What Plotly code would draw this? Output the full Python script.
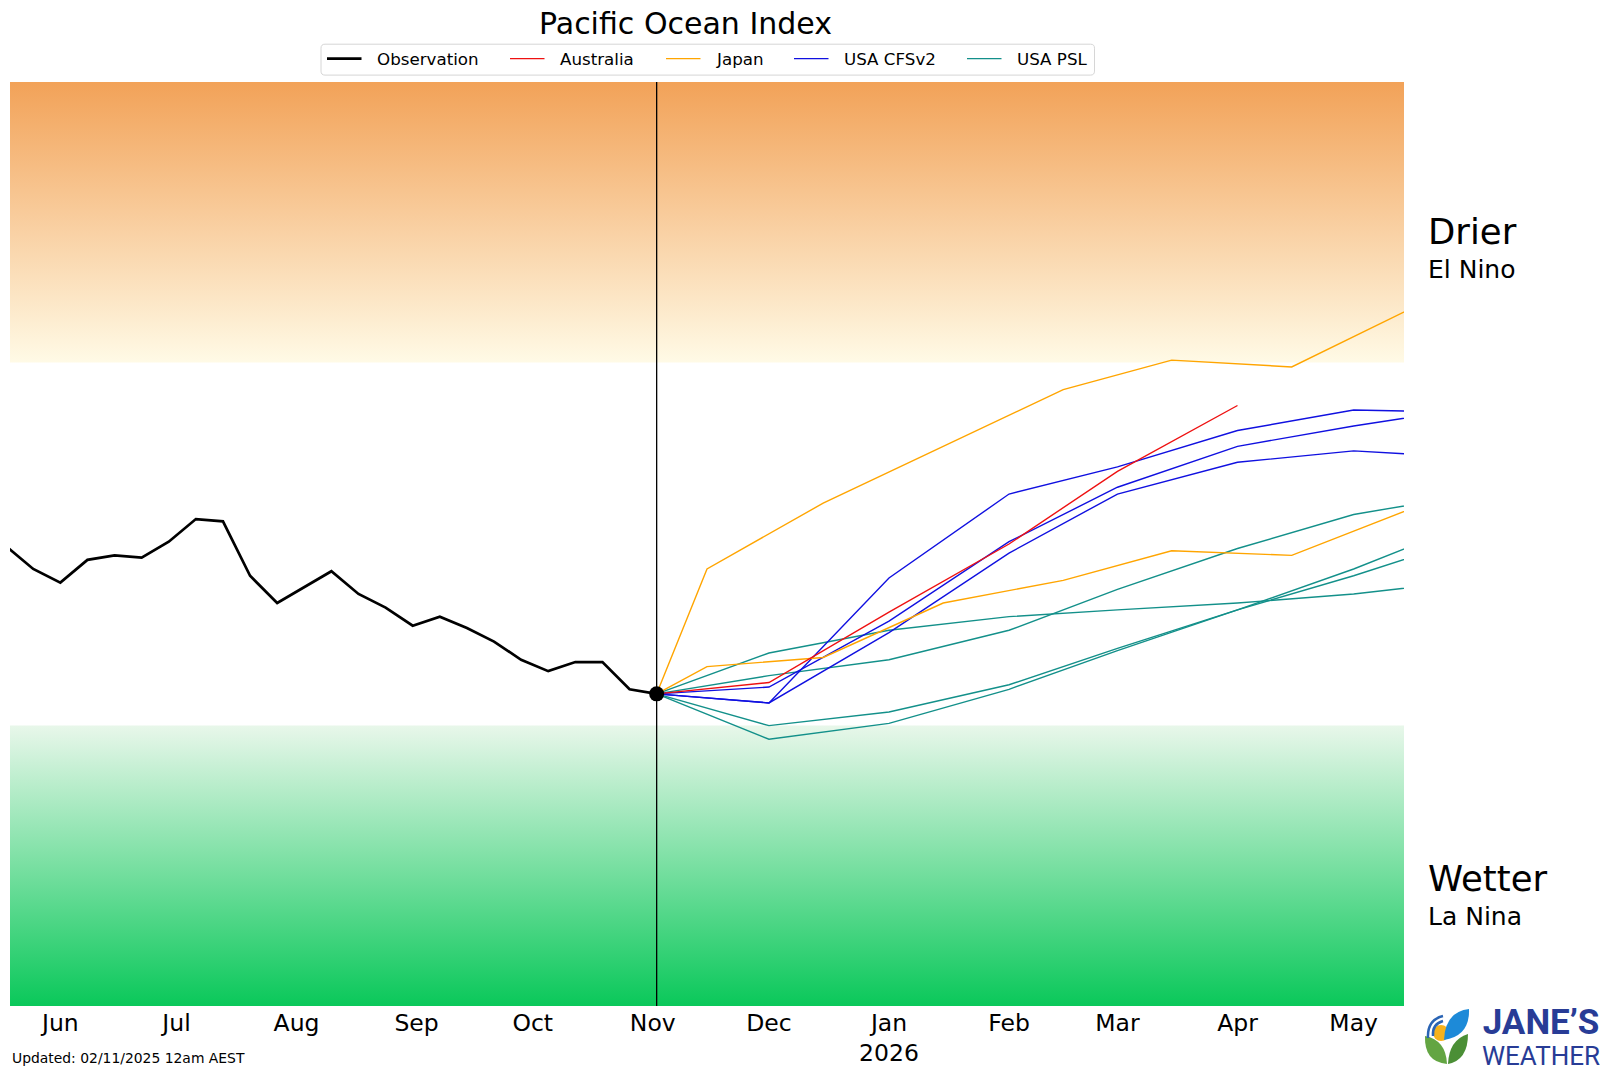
import plotly.graph_objects as go
import pandas as pd

# ---------------- data ----------------
OBS_END = "2025-11-02"
obs_dates = pd.date_range(end=OBS_END, periods=25, freq="7D")
obs_values = [-0.01, -0.11, -0.17, -0.07, -0.05, -0.06, 0.01, 0.11, 0.10, -0.14,
              -0.26, -0.19, -0.12, -0.22, -0.28, -0.36, -0.32, -0.37, -0.43, -0.51,
              -0.56, -0.52, -0.52, -0.64, -0.66]

start_value = obs_values[-1]

# monthly forecast dates (1st of month) after the observation end
month_dates = ["2025-12-01", "2026-01-01", "2026-02-01", "2026-03-01",
               "2026-04-01", "2026-05-01", "2026-06-01"]
# Japan forecast dates (mid-month)
japan_dates = ["2025-11-15", "2025-12-15", "2026-01-15", "2026-02-15",
               "2026-03-15", "2026-04-15", "2026-05-15"]

australia = [-0.61, -0.30, 0.00, 0.32, 0.61]

japan_members = [
    [-0.11, 0.18, 0.43, 0.68, 0.81, 0.78, 1.03],
    [-0.54, -0.50, -0.26, -0.16, -0.03, -0.05, 0.15],
]

cfsv2_members = [
    [-0.70, -0.15, 0.22, 0.34, 0.50, 0.59, 0.58],
    [-0.63, -0.34, 0.01, 0.25, 0.43, 0.52, 0.60],
    [-0.70, -0.39, -0.04, 0.22, 0.36, 0.41, 0.38],
]

psl_members = [
    [-0.48, -0.38, -0.32, -0.29, -0.26, -0.22, -0.16],
    [-0.58, -0.51, -0.38, -0.20, -0.02, 0.13, 0.22],
    [-0.80, -0.74, -0.62, -0.46, -0.29, -0.11, 0.10],
    [-0.86, -0.79, -0.64, -0.47, -0.29, -0.14, 0.03],
]

tick_dates = ["2025-06-01", "2025-07-01", "2025-08-01", "2025-09-01", "2025-10-01",
              "2025-11-01", "2025-12-01", "2026-01-01", "2026-02-01", "2026-03-01",
              "2026-04-01", "2026-05-01"]
tick_labels = ["Jun", "Jul", "Aug", "Sep", "Oct", "Nov", "Dec", "Jan<br>2026",
               "Feb", "Mar", "Apr", "May"]

X_RANGE = ["2025-05-19", "2026-05-14"]
Y_MIN, Y_MAX = -2.035, 2.035
THRESHOLD = 0.8

# ---------------- styling ----------------
W, H = 1613, 1076
PL, PR, PT, PB = 10, 1404, 82, 1006    # plot area in page pixels
FONT = "DejaVu Sans"

C_OBS = "black"
C_AUS = "#ee1111"
C_JPN = "#ffa500"
C_CFS = "#1010e0"
C_PSL = "#13908a"


def px(x):
    return (x - PL) / (PR - PL)


def py(y):
    return (PB - y) / (PB - PT)


fig = go.Figure()

# background bands (gradients)
fig.add_trace(go.Scatter(
    x=[X_RANGE[0], X_RANGE[1], X_RANGE[1], X_RANGE[0]],
    y=[THRESHOLD, THRESHOLD, Y_MAX, Y_MAX],
    mode="lines", line=dict(width=0), fill="toself",
    fillgradient=dict(type="vertical", start=THRESHOLD, stop=Y_MAX,
                      colorscale=[[0, "#fffae6"], [1, "#f2a258"]]),
    hoverinfo="skip", showlegend=False))
fig.add_trace(go.Scatter(
    x=[X_RANGE[0], X_RANGE[1], X_RANGE[1], X_RANGE[0]],
    y=[-THRESHOLD, -THRESHOLD, Y_MIN, Y_MIN],
    mode="lines", line=dict(width=0), fill="toself",
    fillgradient=dict(type="vertical", start=Y_MIN, stop=-THRESHOLD,
                      colorscale=[[0, "#0ac85a"], [1, "#e8f7ea"]]),
    hoverinfo="skip", showlegend=False))

# vertical line at the last observation
fig.add_trace(go.Scatter(x=[OBS_END, OBS_END], y=[Y_MIN, Y_MAX], mode="lines",
                         line=dict(color="black", width=1.3),
                         hoverinfo="skip", showlegend=False))


def add_members(members, dates, color, name):
    for m in members:
        fig.add_trace(go.Scatter(
            x=[OBS_END] + dates[:len(m)], y=[start_value] + m, mode="lines",
            line=dict(color=color, width=1.4), name=name, showlegend=False))


add_members(psl_members, month_dates, C_PSL, "USA PSL")
add_members(cfsv2_members, month_dates, C_CFS, "USA CFSv2")
add_members(japan_members, japan_dates, C_JPN, "Japan")
add_members([australia], month_dates, C_AUS, "Australia")

fig.add_trace(go.Scatter(x=obs_dates, y=obs_values, mode="lines",
                         line=dict(color=C_OBS, width=2.7), name="Observation",
                         showlegend=False))
fig.add_trace(go.Scatter(x=[OBS_END], y=[start_value], mode="markers",
                         marker=dict(color="black", size=15), showlegend=False,
                         hoverinfo="skip"))

fig.update_layout(
    width=W, height=H,
    margin=dict(l=PL, r=W - PR, t=PT, b=H - PB),
    paper_bgcolor="white", plot_bgcolor="white",
    font=dict(family=FONT, color="black"),
    showlegend=False,
    xaxis=dict(type="date", range=X_RANGE, tickvals=tick_dates, ticktext=tick_labels,
               tickfont=dict(size=23.5, family=FONT, color="black"),
               showgrid=False, zeroline=False, showline=False, ticks=""),
    yaxis=dict(range=[Y_MIN, Y_MAX], showticklabels=False, showgrid=False,
               zeroline=False, showline=False, ticks=""),
)

# legend drawn as a matplotlib-style box: (name, colour, width, text start px)
legend_items = [("Observation", C_OBS, 2.7, 375), ("Australia", C_AUS, 1.4, 558),
                ("Japan", C_JPN, 1.4, 714), ("USA CFSv2", C_CFS, 1.4, 842),
                ("USA PSL", C_PSL, 1.4, 1015)]
LEG_Y = 58.6
LEG_BOX = (321, 44.2, 1094.5, 75.1)

annotations = [
    dict(text="Pacific Ocean Index", x=px(685), y=py(23), font=dict(size=30)),
    dict(text="Drier", x=px(1425.8), y=py(231.5), xanchor="left", font=dict(size=35.5)),
    dict(text="El Nino", x=px(1425.8), y=py(269.5), xanchor="left", font=dict(size=25)),
    dict(text="Wetter", x=px(1425.8), y=py(878.5), xanchor="left", font=dict(size=35.5)),
    dict(text="La Nina", x=px(1425.8), y=py(916.6), xanchor="left", font=dict(size=25)),
    dict(text="Updated: 02/11/2025 12am AEST", x=px(10), y=py(1057.5), xanchor="left",
         font=dict(size=13.9)),
    dict(text="<span style='font-size:35px'><b>JANE\u2019S</b></span><br>"
              "<span style='font-size:26px'>WEATHER</span>",
         x=px(1541), y=py(1036), font=dict(size=23.5, family="Roboto", color="#283c96")),
]
for name, color, lw, tx in legend_items:
    annotations.append(dict(text=name, x=px(tx), y=py(LEG_Y), xanchor="left",
                            font=dict(size=16.7)))
for a in annotations:
    a.setdefault("xanchor", "center")
    a.update(xref="paper", yref="paper", yanchor="middle", showarrow=False)
    a["font"].setdefault("family", FONT)
    a["font"].setdefault("color", "black")
fig.update_layout(annotations=annotations)


def path(cmds):
    out = []
    for c in cmds:
        if isinstance(c, str):
            out.append(c)
        else:
            out.append(f"{px(c[0]):.5f},{py(c[1]):.5f}")
    return " ".join(out)


shapes = []
# legend frame with rounded corners
x0, y0, x1, y1 = LEG_BOX
r = 4
shapes.append(dict(type="path", path=path([
    "M", (x0 + r, y0), "L", (x1 - r, y0), "Q", (x1, y0), (x1, y0 + r),
    "L", (x1, y1 - r), "Q", (x1, y1), (x1 - r, y1), "L", (x0 + r, y1),
    "Q", (x0, y1), (x0, y1 - r), "L", (x0, y0 + r), "Q", (x0, y0), (x0 + r, y0), "Z"]),
    fillcolor="white", line=dict(color="#d6d6d6", width=1)))
for name, color, lw, tx in legend_items:
    shapes.append(dict(type="line", x0=px(tx - 48), x1=px(tx - 13.5),
                       y0=py(LEG_Y), y1=py(LEG_Y), line=dict(color=color, width=lw)))

# logo icon built from simple shapes
shapes += [
    dict(type="circle", x0=px(1433), x1=px(1449), y0=py(1041), y1=py(1025),
         fillcolor="#f6b21b", line=dict(width=0)),
    dict(type="path", path=path(["M", (1444, 1040), "Q", (1445, 1012), (1469, 1009),
                                 "Q", (1470, 1036), (1444, 1040), "Z"]),
         fillcolor="#1d8ad8", line=dict(width=0)),
    dict(type="path", path=path(["M", (1447, 1064), "Q", (1424, 1062), (1425, 1036),
                                 "Q", (1446, 1040), (1447, 1064), "Z"]),
         fillcolor="#63a542", line=dict(width=0)),
    dict(type="path", path=path(["M", (1448, 1064), "Q", (1468, 1060), (1468, 1034),
                                 "Q", (1449, 1040), (1448, 1064), "Z"]),
         fillcolor="#4b8f36", line=dict(width=0)),
    dict(type="path", path=path(["M", (1428, 1038), "Q", (1427, 1020), (1443, 1016)]),
         line=dict(color="#2a64b4", width=2.5)),
    dict(type="path", path=path(["M", (1433, 1036), "Q", (1432, 1024), (1443, 1021)]),
         line=dict(color="#2a64b4", width=2.5)),
]
for s in shapes:
    s.update(xref="paper", yref="paper", layer="above")
fig.update_layout(shapes=shapes)

# the page's default 8px body margin would shift the figure; remove it
fig.write_html("out.html", config={"displayModeBar": False},
               post_script="document.body.style.margin='0px';")
